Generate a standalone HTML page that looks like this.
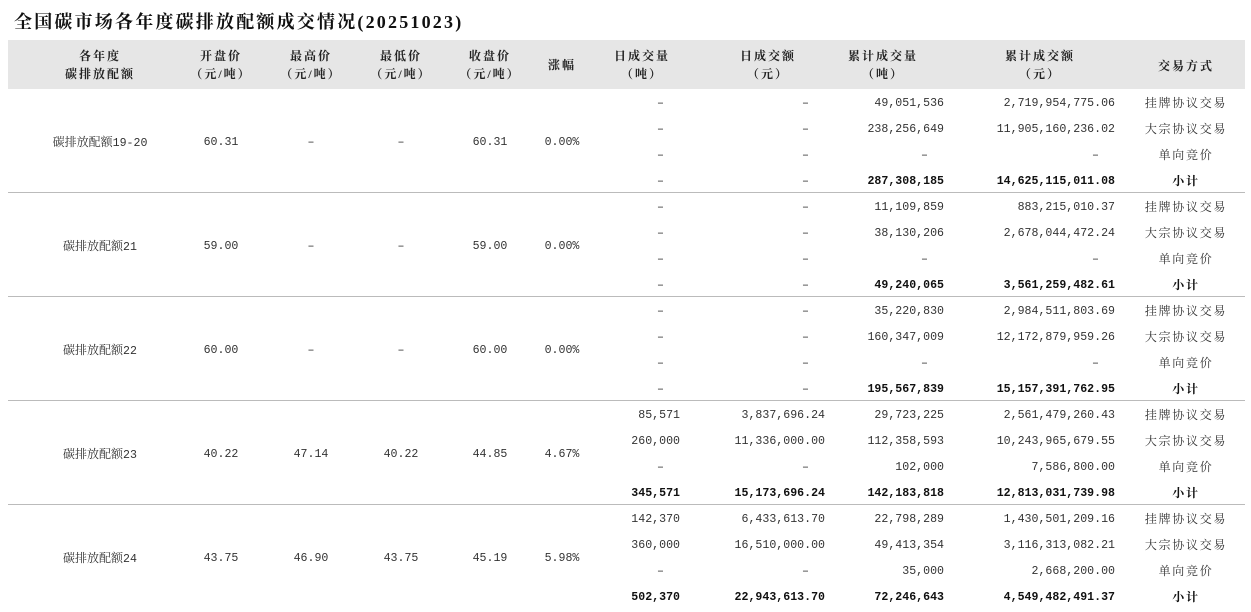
<!DOCTYPE html>
<html><head><meta charset="utf-8"><style>
body{margin:0;width:1251px;height:612px;background:#fff;position:relative;overflow:hidden;font-family:"Liberation Serif","Noto Serif CJK SC",serif;color:#333}
.t{position:absolute;left:14px;top:8px;font-size:18px;font-weight:bold;letter-spacing:2.2px;color:#111;white-space:nowrap}
.hd{position:absolute;left:8px;top:40px;width:1237px;height:49px;background:#e6e6e6}
.h{position:absolute;font-size:12px;font-weight:bold;letter-spacing:2px;text-align:center;line-height:18px;color:#222;white-space:nowrap;transform:translateX(-50%)}
.c{position:absolute;font-size:12px;white-space:nowrap;line-height:16px;transform:translate(-50%,-50%)}
.r{position:absolute;font-family:"Liberation Mono","Noto Serif CJK SC",monospace;font-size:11.6px;white-space:nowrap;line-height:16px;transform:translate(-100%,-50%)}
.n{font-family:"Liberation Mono","Noto Serif CJK SC",monospace;font-size:11.6px}
.m{letter-spacing:1.7px}
.b{font-weight:bold;color:#111}
.ln{position:absolute;left:8px;width:1237px;height:1px;background:#bbb}
</style></head><body>
<div class="t">全国碳市场各年度碳排放配额成交情况(20251023)</div>
<div class="hd"></div>
<div class="h" style="left:100px;top:47px">各年度<br>碳排放配额</div>
<div class="h" style="left:221px;top:47px">开盘价<br>（元/吨）</div>
<div class="h" style="left:311px;top:47px">最高价<br>（元/吨）</div>
<div class="h" style="left:401px;top:47px">最低价<br>（元/吨）</div>
<div class="h" style="left:490px;top:47px">收盘价<br>（元/吨）</div>
<div class="h" style="left:562px;top:56px">涨幅</div>
<div class="h" style="left:642px;top:47px">日成交量<br>（吨）</div>
<div class="h" style="left:768px;top:47px">日成交额<br>（元）</div>
<div class="h" style="left:883px;top:47px">累计成交量<br>（吨）</div>
<div class="h" style="left:1040px;top:47px">累计成交额<br>（元）</div>
<div class="h" style="left:1186px;top:57px">交易方式</div>
<div id="g"></div>
<script>
const groups=[
["碳排放配额19-20","60.31","–","–","60.31","0.00%",[["–","–","49,051,536","2,719,954,775.06"],["–","–","238,256,649","11,905,160,236.02"],["–","–","–","–"],["–","–","287,308,185","14,625,115,011.08"]]],
["碳排放配额21","59.00","–","–","59.00","0.00%",[["–","–","11,109,859","883,215,010.37"],["–","–","38,130,206","2,678,044,472.24"],["–","–","–","–"],["–","–","49,240,065","3,561,259,482.61"]]],
["碳排放配额22","60.00","–","–","60.00","0.00%",[["–","–","35,220,830","2,984,511,803.69"],["–","–","160,347,009","12,172,879,959.26"],["–","–","–","–"],["–","–","195,567,839","15,157,391,762.95"]]],
["碳排放配额23","40.22","47.14","40.22","44.85","4.67%",[["85,571","3,837,696.24","29,723,225","2,561,479,260.43"],["260,000","11,336,000.00","112,358,593","10,243,965,679.55"],["–","–","102,000","7,586,800.00"],["345,571","15,173,696.24","142,183,818","12,813,031,739.98"]]],
["碳排放配额24","43.75","46.90","43.75","45.19","5.98%",[["142,370","6,433,613.70","22,798,289","1,430,501,209.16"],["360,000","16,510,000.00","49,413,354","3,116,313,082.21"],["–","–","35,000","2,668,200.00"],["502,370","22,943,613.70","72,246,643","4,549,482,491.37"]]]];
const modes=["挂牌协议交易","大宗协议交易","单向竞价","小计"];
const xs=[221,311,401,490,562],rx=[680,825,944,1115];
let h="";
groups.forEach((g,gi)=>{
 const top=89+104*gi, mid=top+54;
 h+=`<div class="c" style="left:100px;top:${mid}px">${g[0].replace(/([0-9-]+)/,'<span class="n">$1</span>')}</div>`;
 for(let i=0;i<5;i++)h+=`<div class="c n" style="left:${xs[i]}px;top:${mid}px">${g[i+1]}</div>`;
 g[6].forEach((row,ri)=>{
  const y=top+15+26*ri, b=ri==3?" b":"";
  row.forEach((v,ci)=>{h+=`<div class="r${v=="–"?"":b}" style="left:${v=="–"?rx[ci]-16:rx[ci]}px;top:${y}px">${v}</div>`});
  h+=`<div class="c m${b}" style="left:1186px;top:${y-1}px">${modes[ri]}</div>`;
 });
 if(gi<4)h+=`<div class="ln" style="top:${top+103}px"></div>`;
});
document.getElementById("g").innerHTML=h;
</script>
</body></html>
